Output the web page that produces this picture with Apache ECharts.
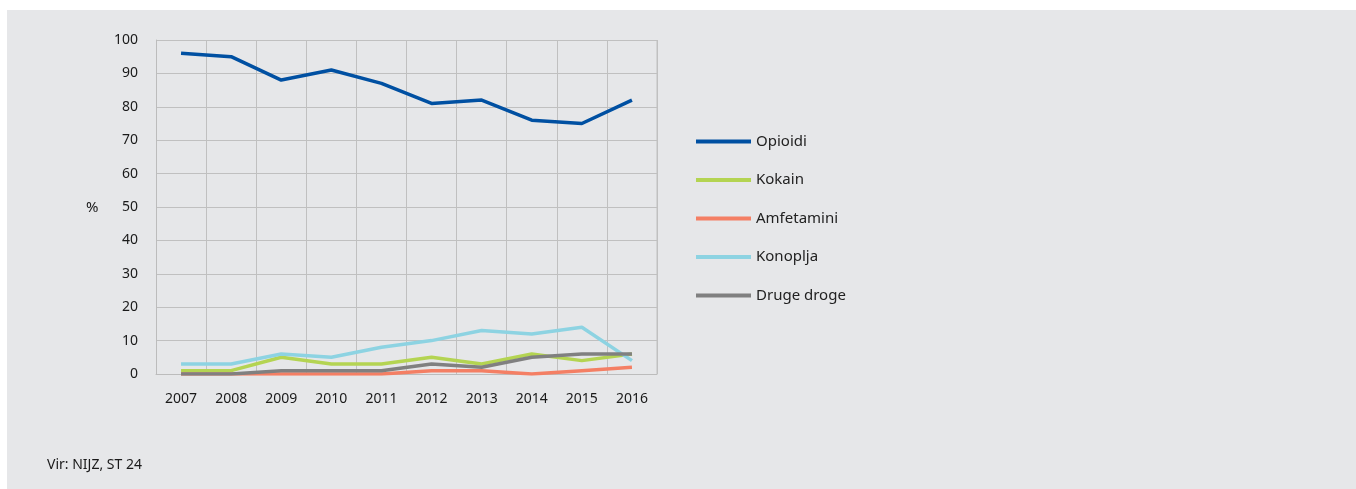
<!DOCTYPE html>
<html>
<head>
<meta charset="utf-8">
<script src="https://cdn.jsdelivr.net/npm/echarts@6/dist/echarts.min.js"></script>
<style>
	html, body {
		margin: 0;
		padding: 0;
		background: #ffffff;
	}
	#chart {
		position: absolute;
		left: 7px;
		top: 10px;
		width: 1349px;
		height: 479px;
	}
</style>
</head>
<body>
<div id="chart"></div>
<script>
// podatki
const years = ['2007', '2008', '2009', '2010', '2011', '2012', '2013', '2014', '2015', '2016'];
const opioidi = [96, 95, 88, 91, 87, 81, 82, 76, 75, 82];
const kokain = [1, 1, 5, 3, 3, 5, 3, 6, 4, 6];
const amfetamini = [0, 0, 0, 0, 0, 1, 1, 0, 1, 2];
const konoplja = [3, 3, 6, 5, 8, 10, 13, 12, 14, 4];
const drugeDroge = [0, 0, 1, 1, 1, 3, 2, 5, 6, 6];

const fontName = '"Noto Sans", "Open Sans", sans-serif';

function lineSeries(name, data, color) {
	return {
		name: name,
		type: 'line',
		data: data,
		symbol: 'none',
		lineStyle: { color: color, width: 3.5 },
		itemStyle: { color: color }
	};
}

const myChart = echarts.init(document.getElementById('chart'));
myChart.setOption({
	backgroundColor: '#e6e7e9',
	animation: false,
	grid: {
		left: 149,
		top: 30,
		width: 501,
		height: 334
	},
	legend: {
		orient: 'vertical',
		left: 684,
		top: 119,
		icon: 'rect',
		itemWidth: 55,
		itemHeight: 4,
		itemGap: 23.5,
		textStyle: { fontFamily: fontName, fontSize: 15, color: '#222222' }
	},
	xAxis: {
		type: 'category',
		boundaryGap: true,
		data: years,
		axisLine: { lineStyle: { color: '#bcbcbc', width: 1 } },
		axisTick: { show: false },
		axisLabel: { color: '#1a1a1a', fontFamily: fontName, fontSize: 14, margin: 18, interval: 0 },
		splitLine: { show: true, interval: 0, lineStyle: { color: '#c0c0c0', width: 1 } }
	},
	yAxis: {
		type: 'value',
		min: 0,
		max: 100,
		interval: 10,
		axisLine: { show: true, lineStyle: { color: '#bcbcbc', width: 1 } },
		axisTick: { show: false },
		axisLabel: { color: '#1a1a1a', fontFamily: fontName, fontSize: 14, margin: 18 },
		splitLine: { lineStyle: { color: '#c0c0c0', width: 1 } }
	},
	graphic: [
		{
			type: 'line',
			shape: { x1: 650, y1: 30, x2: 650, y2: 364 },
			style: { stroke: '#c0c0c0', lineWidth: 1 }
		},
		{
			type: 'text',
			left: 79,
			top: 190,
			style: { text: '%', fontFamily: fontName, fontSize: 15, fill: '#1a1a1a' }
		},
		{
			type: 'text',
			left: 40,
			top: 448,
			style: { text: 'Vir: NIJZ, ST 24', fontFamily: fontName, fontSize: 14, fill: '#1a1a1a' }
		}
	],
	series: [
		lineSeries('Opioidi', opioidi, '#0050a2'),
		lineSeries('Kokain', kokain, '#b4d452'),
		lineSeries('Amfetamini', amfetamini, '#f47f64'),
		lineSeries('Konoplja', konoplja, '#8dd3e2'),
		lineSeries('Druge droge', drugeDroge, '#808080')
	]
});
</script>
</body>
</html>
